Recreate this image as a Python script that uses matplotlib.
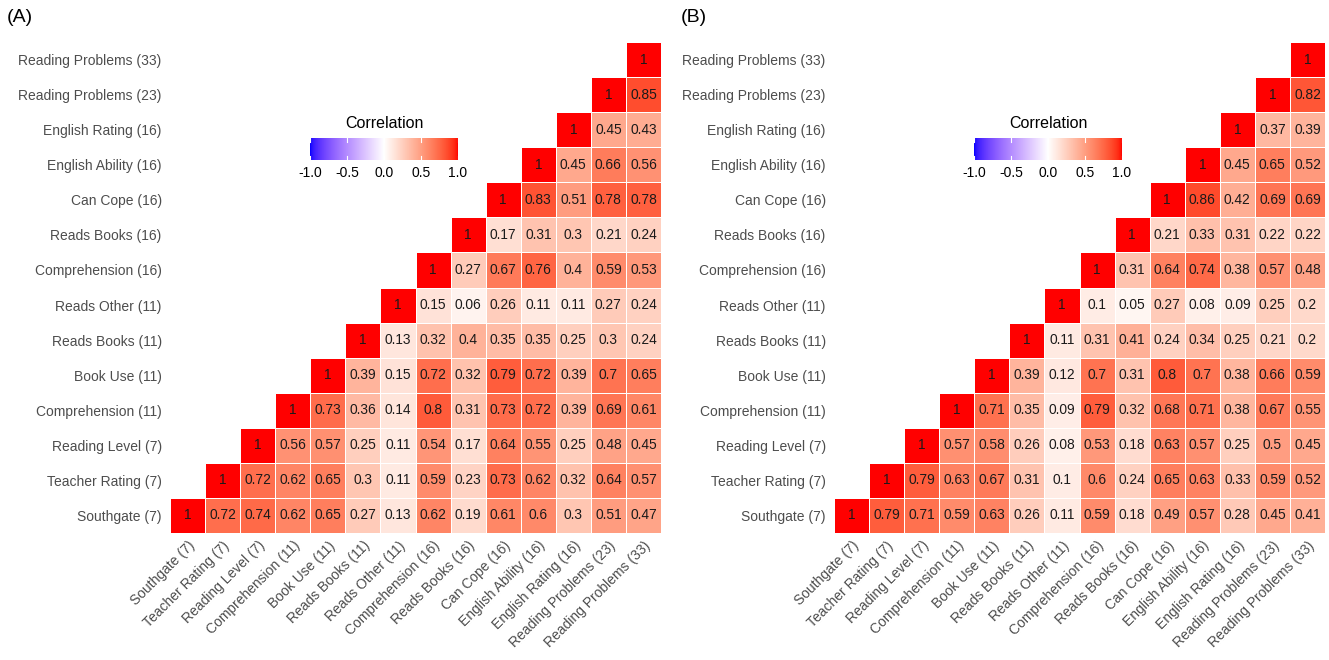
import numpy as np
import matplotlib
matplotlib.use("Agg")
import matplotlib.pyplot as plt
from matplotlib.colors import ListedColormap, Normalize
from matplotlib.cm import ScalarMappable

plt.rcParams['font.family'] = ['Liberation Sans', 'DejaVu Sans']

labels = ["Southgate (7)", "Teacher Rating (7)", "Reading Level (7)",
          "Comprehension (11)", "Book Use (11)", "Reads Books (11)",
          "Reads Other (11)", "Comprehension (16)", "Reads Books (16)",
          "Can Cope (16)", "English Ability (16)", "English Rating (16)",
          "Reading Problems (23)", "Reading Problems (33)"]

# each row i holds correlations with variables i..13
corr_a = [
    [1, .72, .74, .62, .65, .27, .13, .62, .19, .61, .6, .3, .51, .47],
    [1, .72, .62, .65, .3, .11, .59, .23, .73, .62, .32, .64, .57],
    [1, .56, .57, .25, .11, .54, .17, .64, .55, .25, .48, .45],
    [1, .73, .36, .14, .8, .31, .73, .72, .39, .69, .61],
    [1, .39, .15, .72, .32, .79, .72, .39, .7, .65],
    [1, .13, .32, .4, .35, .35, .25, .3, .24],
    [1, .15, .06, .26, .11, .11, .27, .24],
    [1, .27, .67, .76, .4, .59, .53],
    [1, .17, .31, .3, .21, .24],
    [1, .83, .51, .78, .78],
    [1, .45, .66, .56],
    [1, .45, .43],
    [1, .85],
    [1],
]

corr_b = [
    [1, .79, .71, .59, .63, .26, .11, .59, .18, .49, .57, .28, .45, .41],
    [1, .79, .63, .67, .31, .1, .6, .24, .65, .63, .33, .59, .52],
    [1, .57, .58, .26, .08, .53, .18, .63, .57, .25, .5, .45],
    [1, .71, .35, .09, .79, .32, .68, .71, .38, .67, .55],
    [1, .39, .12, .7, .31, .8, .7, .38, .66, .59],
    [1, .11, .31, .41, .24, .34, .25, .21, .2],
    [1, .1, .05, .27, .08, .09, .25, .2],
    [1, .31, .64, .74, .38, .57, .48],
    [1, .21, .33, .31, .22, .22],
    [1, .86, .42, .69, .69],
    [1, .45, .65, .52],
    [1, .37, .39],
    [1, .82],
    [1],
]


# blue-white-red diverging palette interpolated in CIELAB
def srgb_to_lab(c):
    c = np.asarray(c, float)
    lin = np.where(c <= 0.04045, c / 12.92, ((c + 0.055) / 1.055) ** 2.4)
    m = np.array([[0.4124, 0.3576, 0.1805],
                  [0.2126, 0.7152, 0.0722],
                  [0.0193, 0.1192, 0.9505]])
    xyz = m @ lin / np.array([0.95047, 1.0, 1.08883])
    f = np.where(xyz > 0.008856, np.cbrt(xyz), 7.787 * xyz + 16 / 116)
    return np.array([116 * f[1] - 16, 500 * (f[0] - f[1]), 200 * (f[1] - f[2])])


def lab_to_srgb(lab):
    L, a, b = lab
    fy = (L + 16) / 116
    fx = fy + a / 500
    fz = fy - b / 200
    f = np.array([fx, fy, fz])
    xyz = np.where(f ** 3 > 0.008856, f ** 3, (f - 16 / 116) / 7.787)
    xyz = xyz * np.array([0.95047, 1.0, 1.08883])
    m = np.array([[3.2406, -1.5372, -0.4986],
                  [-0.9689, 1.8758, 0.0415],
                  [0.0557, -0.2040, 1.0570]])
    lin = m @ xyz
    c = np.where(lin <= 0.0031308, 12.92 * lin, 1.055 * np.abs(lin) ** (1 / 2.4) - 0.055)
    return np.clip(c, 0, 1)


blue, white, red = srgb_to_lab([0, 0, 1]), srgb_to_lab([1, 1, 1]), srgb_to_lab([1, 0, 0])
cols = []
for v in np.linspace(-1, 1, 512):
    if v < 0:
        lab = white + (blue - white) * (-v)
    else:
        lab = white + (red - white) * v
    cols.append(lab_to_srgb(lab))
cmap = ListedColormap(cols)
norm = Normalize(-1, 1)


def to_matrix(rows):
    n = len(labels)
    mat = np.full((n, n), np.nan)
    for i, r in enumerate(rows):
        mat[i, i:] = r
    return np.ma.masked_invalid(mat)


W, H = 1329, 660
fig = plt.figure(figsize=(W / 100, H / 100), dpi=100)


def panel(rows, x0, tag, tagx, cbx):
    ax = fig.add_axes([x0 / W, 1 - 533 / H, 491 / W, 491 / H])
    mat = to_matrix(rows)
    n = len(labels)
    ax.pcolormesh(np.arange(n + 1) - 0.5, np.arange(n + 1) - 0.5, mat,
                  cmap=cmap, norm=norm, edgecolors='white', linewidth=0.7)
    for i in range(n):
        for j in range(i, n):
            v = mat[i, j]
            txt = '1' if v == 1 else ('%.2f' % v).rstrip('0').rstrip('.')
            ax.text(j, i, txt, ha='center', va='center', fontsize=9.9, color='#1a1a1a')
    ax.set_xlim(-0.5, n - 0.5)
    ax.set_ylim(-0.5, n - 0.5)
    ax.set_xticks(range(n))
    ax.set_yticks(range(n))
    ax.set_xticklabels(labels, rotation=45, ha='right', va='top',
                       rotation_mode='anchor', fontsize=10, color='#4d4d4d')
    ax.set_yticklabels(labels, fontsize=10, color='#4d4d4d')
    ax.tick_params(length=0, pad=6)
    ax.tick_params(axis='x', pad=4)
    for s in ax.spines.values():
        s.set_visible(False)

    fig.text(tagx / W, 1 - 18 / H, tag, fontsize=14, ha='left', va='center')

    cax = fig.add_axes([cbx / W, 1 - 160 / H, 148 / W, 22 / H])
    cb = fig.colorbar(ScalarMappable(norm=norm, cmap=cmap), cax=cax,
                      orientation='horizontal', ticks=[-1, -0.5, 0, 0.5, 1])
    cb.outline.set_visible(False)
    cb.ax.set_xticklabels(['-1.0', '-0.5', '0.0', '0.5', '1.0'], fontsize=10)
    cb.ax.tick_params(length=0, pad=4)
    for t in [-1, -0.5, 0, 0.5, 1]:
        cax.plot([t, t], [0, 0.2], color='white', lw=0.8, transform=cax.get_xaxis_transform())
        cax.plot([t, t], [0.8, 1], color='white', lw=0.8, transform=cax.get_xaxis_transform())
    fig.text((cbx + 74) / W, 1 - 124 / H, 'Correlation', fontsize=11.5,
             ha='center', va='center')


panel(corr_a, 170, '(A)', 7, 310)
panel(corr_b, 834, '(B)', 681, 974)

fig.savefig('out.png', dpi=100)
